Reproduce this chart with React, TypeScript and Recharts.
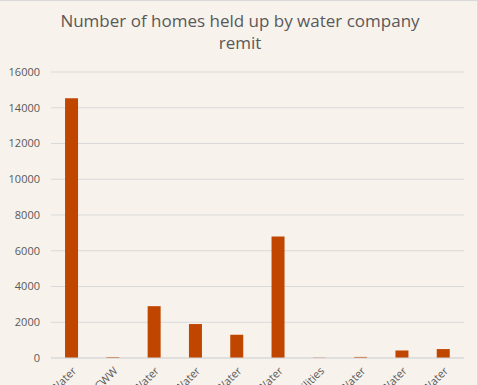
import React from "react";
import { BarChart, Bar, XAxis, YAxis, CartesianGrid } from "recharts";

const companies = [
  "Anglian Water",
  "DCWW",
  "Northumbrian Water",
  "Severn Trent Water",
  "South West Water",
  "Southern Water",
  "United Utilities",
  "Wessex Water",
  "Yorkshire Water",
  "Portsmouth Water",
];
const homesHeldUp = [14530, 50, 2900, 1900, 1300, 6800, 20, 60, 420, 500];
const yTicks = [0, 2000, 4000, 6000, 8000, 10000, 12000, 14000, 16000];

const data = companies.map((name, i) => ({ name, homes: homesHeldUp[i] }));

const FONT = "'Open Sans', 'Liberation Sans', sans-serif";

export default function App() {
  return (
    <div
      style={{
        position: "absolute",
        left: 0,
        top: 0,
        width: 478,
        height: 385,
        background: "#F7F2EC",
        boxSizing: "border-box",
        borderTop: "1px solid #D9D9D9",
        borderRight: "1px solid #D9D9D9",
        overflow: "hidden",
        fontFamily: FONT,
      }}
    >
      <div
        style={{
          position: "absolute",
          left: 0,
          top: 9,
          width: 480,
          textAlign: "center",
          fontSize: 17,
          lineHeight: "22px",
          color: "#595959",
        }}
      >
        Number of homes held up by water company
        <br />
        remit
      </div>
      <div style={{ position: "absolute", left: -1, top: -1 }}>
        <BarChart
          width={478}
          height={385}
          data={data}
          margin={{ top: 72, right: 13, bottom: 0, left: 0 }}
          barCategoryGap="34%"
        >
          <CartesianGrid vertical={false} stroke="#D9D9D9" />
          <XAxis
            dataKey="name"
            interval={0}
            height={27}
            axisLine={{ stroke: "#D9D9D9" }}
            tickLine={false}
            angle={-45}
            textAnchor="end"
            tick={{ fontSize: 11, fill: "#595959", fontFamily: FONT }}
          />
          <YAxis
            width={52}
            domain={[0, 16000]}
            ticks={yTicks}
            axisLine={false}
            tickLine={false}
            tickMargin={5}
            tick={{ fontSize: 11, fill: "#595959", fontFamily: FONT }}
          />
          <Bar dataKey="homes" fill="#C04600" isAnimationActive={false} />
        </BarChart>
      </div>
    </div>
  );
}
